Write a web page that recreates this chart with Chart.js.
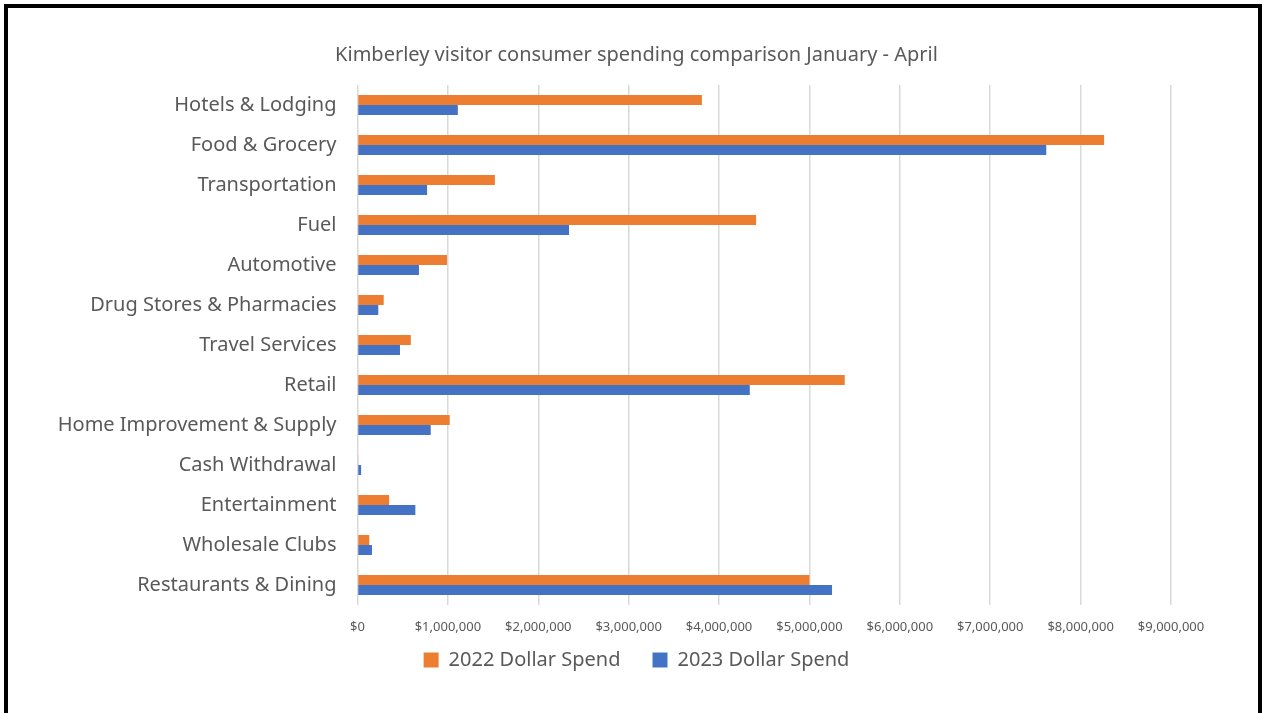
<!DOCTYPE html>
<html>
<head>
<meta charset="utf-8">
<script src="https://cdn.jsdelivr.net/npm/chart.js@4.4.0/dist/chart.umd.min.js"></script>
<style>
  html, body { margin: 0; padding: 0; background: #fff; overflow: hidden; }
  #marco {
    position: absolute; left: 4px; top: 4px; width: 1258px; height: 760px;
    box-sizing: border-box; border: 4px solid #000; border-bottom: none;
    pointer-events: none;
  }
  canvas { position: absolute; left: 0; top: 0; }
</style>
</head>
<body>
<canvas id="grafico" width="1263" height="713"></canvas>
<div id="marco"></div>
<script>
const categorias = [
    "Hotels & Lodging", "Food & Grocery", "Transportation", "Fuel", "Automotive",
    "Drug Stores & Pharmacies", "Travel Services", "Retail", "Home Improvement & Supply",
    "Cash Withdrawal", "Entertainment", "Wholesale Clubs", "Restaurants & Dining"
];
const gasto2022 = [3810000, 8260000, 1520000, 4410000, 990000, 290000, 590000, 5390000, 1020000, 10000, 350000, 130000, 5000000];
const gasto2023 = [1110000, 7620000, 770000, 2340000, 680000, 230000, 470000, 4340000, 810000, 40000, 640000, 160000, 5250000];
const etiquetasX = ["$0", "$1,000,000", "$2,000,000", "$3,000,000", "$4,000,000", "$5,000,000",
    "$6,000,000", "$7,000,000", "$8,000,000", "$9,000,000"];

const fuente = "'Noto Sans', sans-serif";
const gris = "#595959";

// las etiquetas salen del hueco del eje, asi que sin recorte
function sinRecorte(escala) {
    escala._computeLabelArea = () => undefined;
}

const ctx = document.getElementById('grafico').getContext('2d');
new Chart(ctx, {
    type: 'bar',
    data: {
        labels: categorias,
        datasets: [{
            label: '2022 Dollar Spend',
            data: gasto2022,
            backgroundColor: '#ED7D31',
            categoryPercentage: 0.5,
            barPercentage: 1
        }, {
            label: '2023 Dollar Spend',
            data: gasto2023,
            backgroundColor: '#4472C4',
            categoryPercentage: 0.5,
            barPercentage: 1
        }]
    },
    options: {
        indexAxis: 'y',
        responsive: false,
        animation: false,
        layout: { padding: { left: 102, right: 92, top: 0, bottom: 33 } },
        plugins: {
            title: {
                display: true,
                text: 'Kimberley visitor consumer spending comparison January - April',
                color: gris,
                font: { family: fuente, size: 20, weight: 'normal' },
                padding: { top: 43, bottom: 18 }
            },
            legend: {
                position: 'bottom',
                labels: {
                    color: gris,
                    font: { family: fuente, size: 20 },
                    boxWidth: 15,
                    boxHeight: 15,
                    padding: 32
                }
            },
            tooltip: { enabled: false }
        },
        scales: {
            x: {
                min: 0,
                max: 9000000,
                afterFit: (escala) => { escala.height = 13; sinRecorte(escala); },
                ticks: {
                    stepSize: 1000000,
                    color: gris,
                    font: { family: fuente, size: 13 },
                    padding: 14,
                    maxRotation: 0,
                    callback: (v, i) => etiquetasX[i]
                },
                grid: { color: '#d9d9d9', lineWidth: 1.5, drawTicks: false },
                border: { display: false }
            },
            y: {
                afterFit: (escala) => { escala.width = 255.5; sinRecorte(escala); },
                ticks: {
                    color: gris,
                    font: { family: fuente, size: 20 },
                    padding: 21,
                    autoSkip: false
                },
                grid: { display: false, drawTicks: false },
                border: { display: false }
            }
        }
    }
});
</script>
</body>
</html>
